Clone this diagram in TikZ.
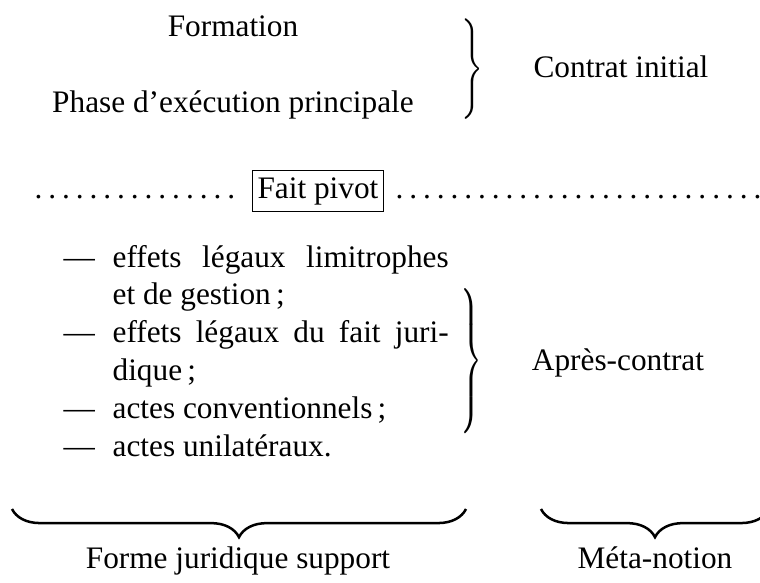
\documentclass[tikz,border=0pt]{standalone}
\usepackage{fontspec}
\usepackage{graphicx}
\setmainfont{Liberation Serif}
\usetikzlibrary{decorations.pathreplacing}
\tikzset{
  txt/.style={inner sep=0pt, anchor=base},
  ltxt/.style={inner sep=0pt, anchor=base west},
  vbrace/.style={inner sep=0pt, anchor=center},
  hbrace/.style={decorate, decoration={brace, mirror, amplitude=9pt}, line width=0.8pt},
  pivot/.style={draw, line width=0.4pt, inner xsep=1.7pt, inner ysep=2pt, text height=6.8pt, text depth=2.2pt},
}
\newcommand{\myvbrace}[2]{\resizebox*{7pt}{#1}{$\nulldelimiterspace=0pt\left.\vcenter{\hrule height #2 width 0pt}\right\}$}}
\begin{document}
\begin{tikzpicture}[x=0.3195pt, y=-0.3195pt]
  \useasboundingbox (0,0) rectangle (760,582);
  % top block
  \node[txt] (form) at (233,36) {Formation};
  \node[txt] (phase) at (233,112) {Phase d’exécution principale};
  \node[vbrace] (b1) at (472,69) {\myvbrace{34.8pt}{26pt}};
  \node[ltxt] (ci) at (533,77) {Contrat initial};
  % pivot row
  \node[ltxt] (dl) at (30,198) {\hbox to 66.6pt{\dotfill}};
  \node[pivot] (fp) at (318,191) {Fait pivot};
  \node[ltxt] (dr) at (391,198) {\hbox to 119.4pt{\dotfill}};
  % list
  \node[ltxt] (d1) at (63,267) {—};
  \node[ltxt] (l1) at (112,267) {\hbox to 107.4pt{effets\hfill légaux\hfill limitrophes}};
  \node[ltxt] (l2) at (112,304.8) {et de gestion\,;};
  \node[ltxt] (d2) at (63,342.6) {—};
  \node[ltxt] (l3) at (112,342.6) {\hbox to 107.4pt{effets\hfill légaux\hfill du\hfill fait\hfill juri-}};
  \node[ltxt] (l4) at (112,380.4) {dique\,;};
  \node[ltxt] (d3) at (63,418.2) {—};
  \node[ltxt] (l5) at (112,418.2) {actes conventionnels\,;};
  \node[ltxt] (d4) at (63,456) {—};
  \node[ltxt] (l6) at (112,456) {actes unilatéraux.};
  \node[vbrace] (b2) at (471,361) {\myvbrace{48.9pt}{38pt}};
  \node[txt] (ac) at (618,370) {Après-contrat};
  % bottom braces
  \coordinate (h1a) at (12,509);
  \coordinate (h1b) at (466,509);
  \coordinate (h2a) at (541,509);
  \coordinate (h2b) at (769,509);
  \draw[hbrace] (h1a) -- (h1b);
  \draw[hbrace] (h2a) -- (h2b);
  \node[txt] (fjs) at (238,568) {Forme juridique support};
  \node[txt] (mn) at (655,568) {Méta-notion};
\end{tikzpicture}
\end{document}
